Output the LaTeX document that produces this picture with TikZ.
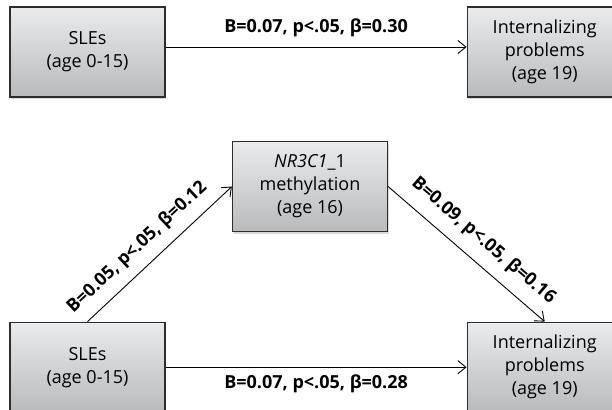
\documentclass[tikz,border=0pt]{standalone}
\usepackage{fontspec}
\setmainfont{Open Sans}
\usepackage{xcolor}
\usetikzlibrary{positioning,arrows.meta,shadows}

\definecolor{boxtop}{RGB}{234,235,236}
\definecolor{boxbottom}{RGB}{184,186,188}
\definecolor{boxline}{RGB}{45,45,45}

\begin{document}
\begin{tikzpicture}[every node/.style={align=center, font=\fontsize{9}{11.5}\selectfont},
  varbox/.style={draw=boxline, line width=0.6pt, rectangle, top color=boxtop, bottom color=boxbottom, minimum width=77.5pt, minimum height=45pt, inner sep=0pt, drop shadow={opacity=0.3, shadow xshift=0.6pt, shadow yshift=-1.2pt}},
  effect/.style={-{Straight Barb[length=4pt,width=6.5pt]}, line width=0.45pt},
  coef/.style={font=\bfseries\fontsize{9}{11.5}\selectfont}]
\useasboundingbox (0,0) rectangle (306pt,-204.5pt);
% Total effect
\node[varbox] (sles1) at (43.75pt,-26pt) {SLEs \\ (age 0-15)};
\node[varbox, right=150.5pt of sles1] (int1) {Internalizing \\ problems \\ (age 19)};
% Mediation model
\node[varbox, below=112pt of sles1] (sles2) {SLEs \\ (age 0-15)};
\node[varbox, below=112pt of int1] (int2) {Internalizing \\ problems \\ (age 19)};
\node[varbox] (med) at (155pt,-93.25pt) {\textit{NR3C1}\_1 \\ methylation \\ (age 16)};
% Arrows
\draw[effect] ([yshift=2.5pt]sles1.east) -- node[coef, above=1.5pt] {B=0.07, p<.05, β=0.30} ([yshift=2.5pt]int1.west);
\draw[effect] (sles2.north) -- node[coef, sloped, above=2pt, pos=0.44] {B=0.05, p<.05, β=0.12} (med.west);
\draw[effect] (med.east) -- node[coef, sloped, above=2.5pt, pos=0.52] {B=0.09, p<.05, β=0.16} (int2.north);
\draw[effect] (sles2) -- node[coef, below=0pt] {B=0.07, p<.05, β=0.28} (int2);
\end{tikzpicture}
\end{document}
